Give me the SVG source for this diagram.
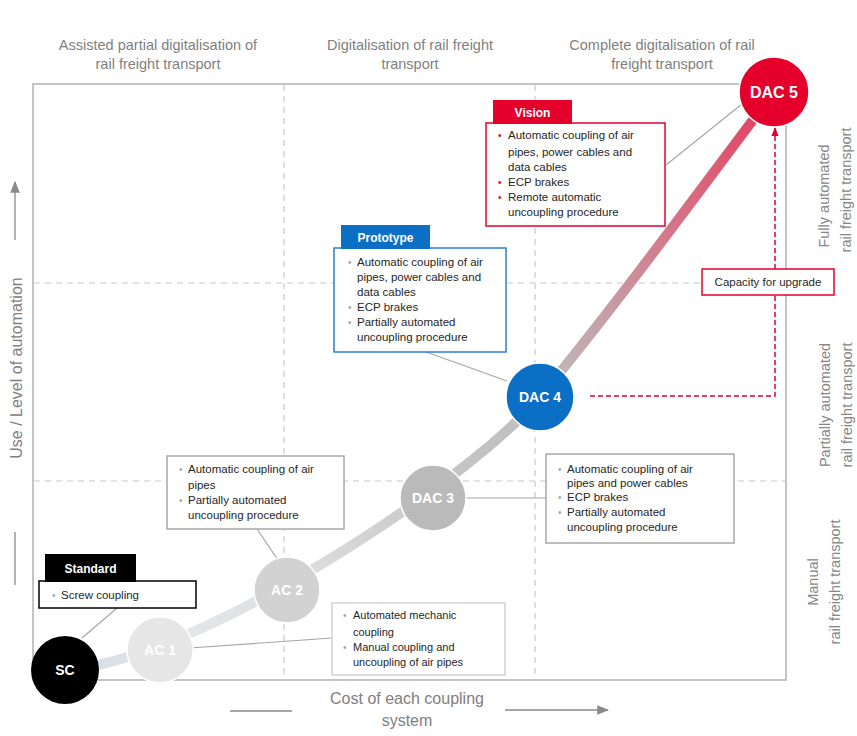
<svg xmlns="http://www.w3.org/2000/svg" width="857" height="736" viewBox="0 0 857 736">
<defs>
<linearGradient id="curveGrad" gradientUnits="userSpaceOnUse" x1="65" y1="670" x2="774" y2="92">
<stop offset="0" stop-color="#d3dde8"/>
<stop offset="0.12" stop-color="#e4e7ea"/>
<stop offset="0.28" stop-color="#dcdcdc"/>
<stop offset="0.45" stop-color="#c6c6c6"/>
<stop offset="0.6" stop-color="#bdbdbd"/>
<stop offset="0.72" stop-color="#c898a2"/>
<stop offset="0.86" stop-color="#d9687e"/>
<stop offset="1" stop-color="#e43e5d"/>
</linearGradient>
<marker id="arrGray" viewBox="0 0 10 10" refX="9" refY="5" markerWidth="12" markerHeight="12" markerUnits="userSpaceOnUse" orient="auto"><path d="M0,1 L10,5 L0,9 z" fill="#8a8a8a"/></marker>
<marker id="arrRed" viewBox="0 0 10 10" refX="9" refY="5" markerWidth="9" markerHeight="9" markerUnits="userSpaceOnUse" orient="auto"><path d="M0,1 L10,5 L0,9 z" fill="#e4002b"/></marker>
</defs>
<style>
text { font-family: "Liberation Sans", Arial, sans-serif; }
.hdr { font-size:14.5px; fill:#7f7f7f; text-anchor:middle; }
.side { font-size:14.5px; fill:#868686; text-anchor:middle; }
.axis { font-size:16px; fill:#808080; text-anchor:middle; }
.grid { stroke:#c8c8c8; stroke-width:1.2; stroke-dasharray:6 5; fill:none; }
.frame { stroke:#c4c4c4; stroke-width:2; fill:none; }
.axl { stroke:#8a8a8a; stroke-width:1.3; fill:none; }
.box { fill:#fff; stroke-width:1.5; }
.bt { font-size:11.5px; fill:#262626; }
.bts { font-size:11px; fill:#262626; }
.bul { font-size:10px; fill:#a6a6a6; }
.bulr { font-size:10px; fill:#e4002b; }
.tag { font-size:12px; font-weight:bold; fill:#fff; text-anchor:middle; }
.nl { font-size:14px; font-weight:bold; fill:#fff; text-anchor:middle; }
.conn { stroke:#a6a6a6; stroke-width:1.2; fill:none; }
</style>

<rect width="857" height="736" fill="#fff"/>

<!-- background grid and frame -->
<g id="grid">
<line class="grid" x1="284" y1="85" x2="284" y2="679"/>
<line class="grid" x1="535" y1="85" x2="535" y2="679"/>
<line class="grid" x1="34" y1="283" x2="702" y2="283"/>
<line class="grid" x1="34" y1="481" x2="785" y2="481"/>
<rect class="frame" x="33" y="84" width="753" height="596"/>
</g>

<!-- headers -->
<g id="headers">
<text class="hdr" x="158" y="50">Assisted partial digitalisation of</text>
<text class="hdr" x="158" y="69">rail freight transport</text>
<text class="hdr" x="410" y="50">Digitalisation of rail freight</text>
<text class="hdr" x="410" y="69">transport</text>
<text class="hdr" x="662" y="50">Complete digitalisation of rail</text>
<text class="hdr" x="662" y="69">freight transport</text>
</g>

<!-- axes -->
<g id="yaxis">
<line class="axl" x1="15" y1="240" x2="15" y2="182" marker-end="url(#arrGray)"/>
<line class="axl" x1="15" y1="532" x2="15" y2="585"/>
<text class="axis" transform="translate(22,368) rotate(-90)">Use / Level of automation</text>
</g>
<g id="xaxis">
<text class="axis" x="407" y="704">Cost of each coupling</text>
<text class="axis" x="407" y="726">system</text>
<line class="axl" x1="230" y1="711" x2="292" y2="711"/>
<line class="axl" x1="505" y1="710" x2="608" y2="710" marker-end="url(#arrGray)"/>
</g>

<!-- side labels -->
<g id="sidelabels">
<text class="side" transform="translate(829,196) rotate(-90)">Fully automated</text>
<text class="side" transform="translate(851,190) rotate(-90)">rail freight transport</text>
<text class="side" transform="translate(830,405) rotate(-90)">Partially automated</text>
<text class="side" transform="translate(852,405) rotate(-90)">rail freight transport</text>
<text class="side" transform="translate(818,582) rotate(-90)">Manual</text>
<text class="side" transform="translate(840,582) rotate(-90)">rail freight transport</text>
</g>

<!-- connectors -->
<g id="connectors">
<path d="M65,670 C200,660 470,480 540,397 C620,300 700,190 774,92" fill="none" stroke="url(#curveGrad)" stroke-width="10" stroke-linecap="round"/>
<line class="conn" x1="117" y1="608" x2="82" y2="638"/>
<line class="conn" x1="190" y1="648" x2="332" y2="638"/>
<line class="conn" x1="257" y1="529" x2="278" y2="560"/>
<line class="conn" x1="466" y1="498" x2="546" y2="498"/>
<line class="conn" x1="426" y1="352" x2="507" y2="381"/>
<line class="conn" x1="666" y1="165" x2="742" y2="104"/>
<path d="M590,396 H775 V128" fill="none" stroke="#e4002b" stroke-width="1.5" stroke-dasharray="5 3" marker-end="url(#arrRed)"/>
</g>

<!-- nodes -->
<g id="node-sc">
<circle cx="65" cy="670" r="34" fill="#000"/>
<text class="nl" x="65" y="675">SC</text>
</g>
<g id="node-ac1">
<circle cx="160" cy="650" r="33" fill="#e6e6e6" stroke="#fff" stroke-width="1.5"/>
<text class="nl" x="160" y="655">AC 1</text>
</g>
<g id="node-ac2">
<circle cx="287" cy="590" r="33" fill="#d2d2d2" stroke="#fff" stroke-width="1.5"/>
<text class="nl" x="287" y="595">AC 2</text>
</g>
<g id="node-dac3">
<circle cx="433" cy="498" r="33" fill="#bababa" stroke="#fff" stroke-width="1.5"/>
<text class="nl" x="433" y="503">DAC 3</text>
</g>
<g id="node-dac4">
<circle cx="540" cy="397" r="34" fill="#0b6fc6" stroke="#fff" stroke-width="1.5"/>
<text class="nl" x="540" y="402">DAC 4</text>
</g>
<g id="node-dac5">
<circle cx="774" cy="92" r="35" fill="#e4002b" stroke="#fff" stroke-width="1.5"/>
<text class="nl" x="774" y="98" style="font-size:16px">DAC 5</text>
</g>

<!-- boxes -->
<g id="box-vision">
<rect class="box" x="486" y="123" width="179" height="103" stroke="#e4002b"/>
<rect x="493" y="100" width="79" height="24" fill="#e4002b"/>
<text class="tag" x="532.5" y="117">Vision</text>
<text class="bulr" x="498" y="139">•</text><text class="bt" x="508" y="139">Automatic coupling of air</text>
<text class="bt" x="508" y="156">pipes, power cables and</text>
<text class="bt" x="508" y="171">data cables</text>
<text class="bulr" x="498" y="186">•</text><text class="bt" x="508" y="186">ECP brakes</text>
<text class="bulr" x="498" y="201">•</text><text class="bt" x="508" y="201">Remote automatic</text>
<text class="bt" x="508" y="216">uncoupling procedure</text>
</g>

<g id="box-prototype">
<rect class="box" x="334" y="248" width="172" height="104" stroke="#2a7fd0"/>
<rect x="341" y="225" width="89" height="24" fill="#0b6fc6"/>
<text class="tag" x="385.5" y="242">Prototype</text>
<text class="bul" x="348" y="266">•</text><text class="bt" x="357" y="266">Automatic coupling of air</text>
<text class="bt" x="357" y="281">pipes, power cables and</text>
<text class="bt" x="357" y="296">data cables</text>
<text class="bul" x="348" y="311">•</text><text class="bt" x="357" y="311">ECP brakes</text>
<text class="bul" x="348" y="326">•</text><text class="bt" x="357" y="326">Partially automated</text>
<text class="bt" x="357" y="341">uncoupling procedure</text>
</g>

<g id="box-capacity">
<rect class="box" x="702" y="269" width="132" height="26" stroke="#e4002b"/>
<text class="bt" x="768" y="286" text-anchor="middle">Capacity for upgrade</text>
</g>

<g id="box-dac3">
<rect class="box" x="546" y="454" width="188" height="89" stroke="#a8a8a8"/>
<text class="bul" x="558" y="473">•</text><text class="bt" x="567" y="473">Automatic coupling of air</text>
<text class="bt" x="567" y="487">pipes and power cables</text>
<text class="bul" x="558" y="501">•</text><text class="bt" x="567" y="501">ECP brakes</text>
<text class="bul" x="558" y="516">•</text><text class="bt" x="567" y="516">Partially automated</text>
<text class="bt" x="567" y="531">uncoupling procedure</text>
</g>

<g id="box-ac2">
<rect class="box" x="167" y="456" width="177" height="73" stroke="#a8a8a8"/>
<text class="bul" x="179" y="473">•</text><text class="bt" x="188" y="473">Automatic coupling of air</text>
<text class="bt" x="188" y="489">pipes</text>
<text class="bul" x="179" y="504">•</text><text class="bt" x="188" y="504">Partially automated</text>
<text class="bt" x="188" y="519">uncoupling procedure</text>
</g>

<g id="box-ac1">
<rect class="box" x="332" y="603" width="173" height="72" stroke="#d2d2d2"/>
<text class="bul" x="343" y="619">•</text><text class="bts" x="353" y="619">Automated mechanic</text>
<text class="bts" x="353" y="636">coupling</text>
<text class="bul" x="343" y="651">•</text><text class="bts" x="353" y="651">Manual coupling and</text>
<text class="bts" x="353" y="666">uncoupling of air pipes</text>
</g>

<g id="box-standard">
<rect class="box" x="39" y="581" width="157" height="27" stroke="#000"/>
<rect x="45" y="554" width="91" height="28" fill="#000"/>
<text class="tag" x="90.5" y="573">Standard</text>
<text class="bul" x="52" y="599">•</text><text class="bt" x="61" y="599">Screw coupling</text>
</g>
</svg>
